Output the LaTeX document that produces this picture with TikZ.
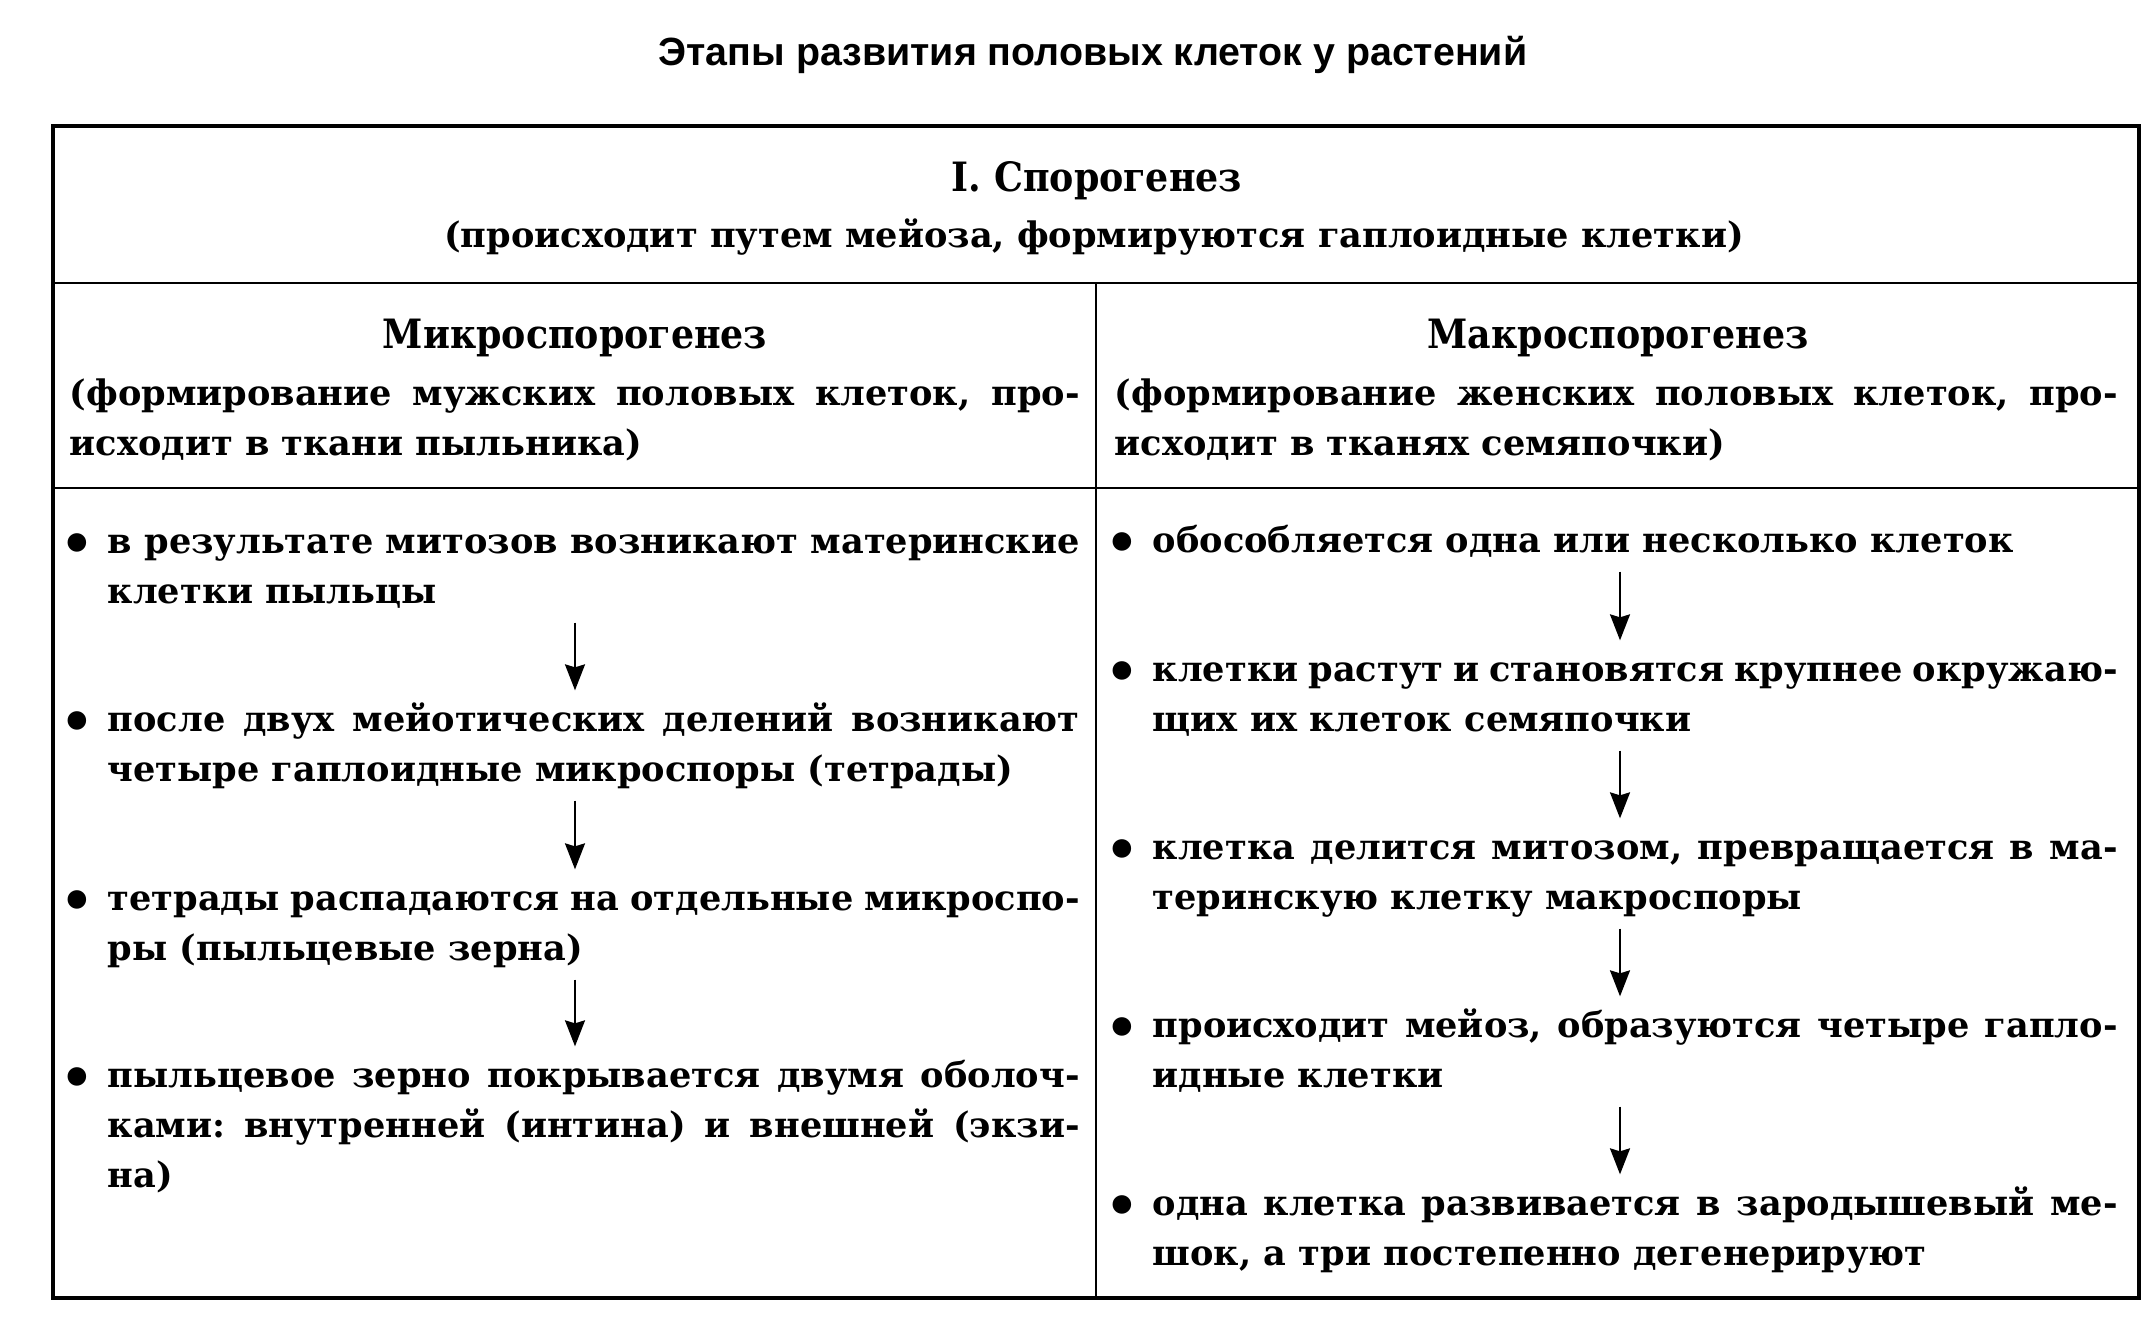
\documentclass[tikz,border=0pt]{standalone}
\usepackage{fontspec}
\setmainfont{DejaVu Serif}
\newfontfamily\titlefamily{Liberation Sans}
\newfontfamily\headfamily{DejaVu Serif Condensed}
\usetikzlibrary{arrows.meta}
\frenchspacing
\newcommand{\itemdot}{\llap{\raisebox{-2.5pt}{\fontsize{15}{14}\selectfont •}\hspace{3.8pt}}}
\tikzset{
  frame line/.style={line width=0.9pt},
  rule line/.style={line width=0.8pt},
  flow/.style={-{Stealth[length=2.6mm, width=2mm, inset=0.3mm]},
    line width=0.6pt, shorten <=0.03cm, shorten >=0.06cm},
  sheet title/.style={font=\titlefamily\bfseries\fontsize{11.2}{13}\selectfont,
    anchor=base, inner sep=0pt},
  head text/.style={font=\headfamily\bfseries\fontsize{11.5}{14}\selectfont,
    anchor=base, inner sep=0pt},
  note text/.style={font=\bfseries\fontsize{10}{14.2}\selectfont,
    anchor=base, inner sep=0pt},
  para/.style={font=\bfseries\fontsize{10}{14.2}\selectfont, anchor=base west,
    inner sep=0pt, align=justify,
    execute at begin node=\strut, execute at end node=\strut},
  left para/.style={para, text width=10.10cm},
  right para/.style={para, text width=10.03cm},
  left item/.style={para, text width=9.72cm},
  right item/.style={para, text width=9.65cm}
}
\begin{document}
\begin{tikzpicture}
  \useasboundingbox (0,0) rectangle (21.56,13.25);
  \node[sheet title] (title) at (10.93,12.59)
    {Этапы развития половых клеток у растений};

  \draw[frame line] (0.53,0.27) rectangle (21.39,11.99);
  \draw[rule line] (0.53,10.42) -- (21.39,10.42);
  \draw[rule line] (0.53,8.37) -- (21.39,8.37);
  \draw[rule line] (10.96,0.27) -- (10.96,10.42);

  \node[head text] (spor) at (10.97,11.33) {I. Спорогенез};
  \node[note text] (spornote) at (10.94,10.77)
    {(происходит путем мейоза, формируются гаплоидные клетки)};

  \node[head text] (micro) at (5.75,9.76) {Микроспорогенез};
  \node[left para] (micronote) at (0.69,9.19)
    {(формирование мужских половых клеток, про-\linebreak
     исходит в ткани пыльника)};
  \node[head text] (macro) at (16.18,9.76) {Макроспорогенез};
  \node[right para] (macronote) at (11.14,9.19)
    {(формирование женских половых клеток, про-\linebreak
     исходит в тканях семяпочки)};

  \node[left item] (l1) at (1.07,7.71)
    {\itemdot в результате митозов возникают материнские\linebreak
     клетки пыльцы};
  \node[left item] (l2) at (1.07,5.93)
    {\itemdot после двух мейотических делений возникают\linebreak
     четыре гаплоидные микроспоры (тетрады)};
  \node[left item] (l3) at (1.07,4.14)
    {\itemdot тетрады распадаются на отдельные микроспо-\linebreak
     ры (пыльцевые зерна)};
  \node[left item] (l4) at (1.07,2.37)
    {\itemdot пыльцевое зерно покрывается двумя оболоч-\linebreak
     ками: внутренней (интина) и внешней (экзи-\linebreak
     на)};

  \node[right item] (r1) at (11.52,7.72)
    {\itemdot обособляется одна или несколько клеток};
  \node[right item] (r2) at (11.52,6.43)
    {\itemdot клетки растут и становятся крупнее окружаю-\linebreak
     щих их клеток семяпочки};
  \node[right item] (r3) at (11.52,4.65)
    {\itemdot клетка делится митозом, превращается в ма-\linebreak
     теринскую клетку макроспоры};
  \node[right item] (r4) at (11.52,2.87)
    {\itemdot происходит мейоз, образуются четыре гапло-\linebreak
     идные клетки};
  \node[right item] (r5) at (11.52,1.09)
    {\itemdot одна клетка развивается в зародышевый ме-\linebreak
     шок, а три постепенно дегенерируют};

  \coordinate (lx) at (5.75,0);
  \coordinate (rx) at (16.20,0);
  \draw[flow] (l1.south -| lx) -- (l2.north -| lx);
  \draw[flow] (l2.south -| lx) -- (l3.north -| lx);
  \draw[flow] (l3.south -| lx) -- (l4.north -| lx);
  \draw[flow] (r1.south -| rx) -- (r2.north -| rx);
  \draw[flow] (r2.south -| rx) -- (r3.north -| rx);
  \draw[flow] (r3.south -| rx) -- (r4.north -| rx);
  \draw[flow] (r4.south -| rx) -- (r5.north -| rx);
\end{tikzpicture}
\end{document}
